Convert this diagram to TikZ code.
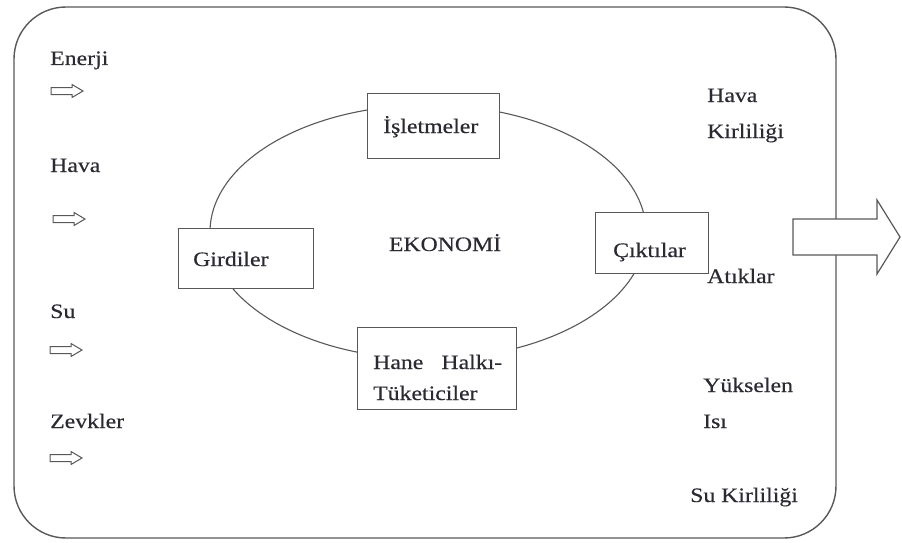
\documentclass[tikz,border=0pt]{standalone}
\usepackage{fontspec}
\setmainfont{Liberation Serif}[FakeStretch=1.16,FakeBold=0.35]
\definecolor{ln}{RGB}{88,88,88}
\definecolor{tx}{RGB}{42,42,50}
\newcommand{\smallarr}[3]{%
  \coordinate (#1) at (#2,#3);
  \draw[arr] (#1) ++(0,-3.5) -- ++(21,0) -- ++(0,-3) -- ++(11,6.5) -- ++(-11,6.5) -- ++(0,-3) -- ++(-21,0) -- cycle;}
\begin{document}
\begin{tikzpicture}[x=1pt,y=-1pt,
  every node/.style={text=tx, font=\fontsize{20.5}{31}\selectfont},
  lbl/.style={anchor=base west, inner sep=0pt},
  box/.style={draw=ln, line width=1.2pt, fill=white, anchor=north west, inner sep=0pt},
  arr/.style={draw=ln, line width=1pt, fill=white, line join=miter}]
\useasboundingbox (0,0) rectangle (902,543);
% outer environment
\draw[ln, line width=1.4pt, rounded corners=52pt] (14,7) rectangle (836,538);
% economy cycle
\draw[ln, line width=1.1pt] (428,232) ellipse [x radius=218pt, y radius=127pt];
\node[box, minimum width=132pt, minimum height=65pt] (isl) at (367,93) {};
\node[box, minimum width=135pt, minimum height=60pt] (gir) at (178,228) {};
\node[box, minimum width=113pt, minimum height=61pt] (cik) at (595,212) {};
\node[box, minimum width=159pt, minimum height=82pt] (hane) at (357,327) {};
\node[lbl] (islt) at (383,133) {İşletmeler};
\node[lbl] (girt) at (193,266) {Girdiler};
\node[lbl] (cikt) at (613,257) {Çıktılar};
\node[lbl] (hanet1) at (373,369) {\hbox to 129pt{Hane\hfill Halkı-}};
\node[lbl] (hanet2) at (373,400) {Tüketiciler};
\node[anchor=base, inner sep=0pt] (eko) at (445,251) {EKONOMİ};
% inputs
\node[lbl] (enerji) at (50,65) {Enerji};
\smallarr{a1}{51}{91}
\node[lbl] (hava) at (50,172) {Hava};
\smallarr{a2}{53}{219}
\node[lbl] (su) at (50,318) {Su};
\smallarr{a3}{50}{350}
\node[lbl] (zevk) at (50,428) {Zevkler};
\smallarr{a4}{50}{458}
% outputs
\node[lbl] (hk1) at (707,102) {Hava};
\node[lbl] (hk2) at (707,138) {Kirliliği};
\node[lbl] (atik) at (707,283) {Atıklar};
\node[lbl] (yuk1) at (703,392) {Yükselen};
\node[lbl] (yuk2) at (703,428) {Isı};
\node[lbl] (sukir) at (690,502) {Su Kirliliği};
% big outgoing arrow
\coordinate (big) at (793,237);
\draw[arr, line width=1.2pt] (big) ++(0,-18) -- ++(84,0) -- ++(0,-19) -- ++(23,37) -- ++(-23,37) -- ++(0,-19) -- ++(-84,0) -- cycle;
\end{tikzpicture}
\end{document}
